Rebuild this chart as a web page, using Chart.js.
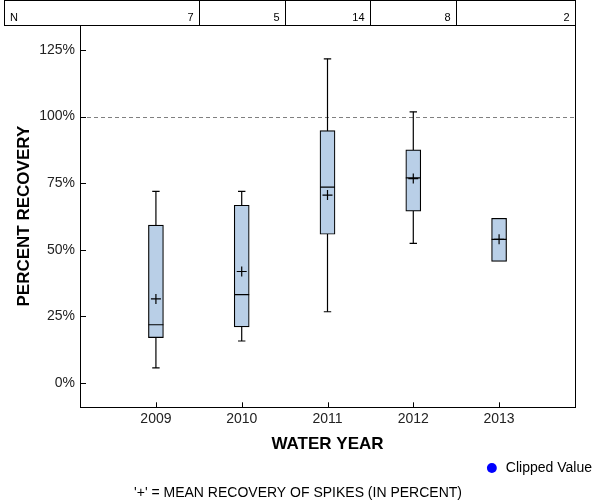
<!DOCTYPE html>
<html>
<head>
<meta charset="utf-8">
<script src="https://cdn.jsdelivr.net/npm/chart.js@4/dist/chart.umd.min.js"></script>
<style>
  html, body { margin: 0; padding: 0; background: #fff; }
  #wrap { width: 600px; height: 500px; position: relative; }
</style>
</head>
<body>
<div id="wrap"><canvas id="c" width="600" height="500"></canvas></div>
<script>
// ---- data ----
const years       = [2009, 2010, 2011, 2012, 2013];
const countN      = [7, 5, 14, 8, 2];
const whiskerLow  = [5.6, 15.7, 26.7, 52.4, null];
const q1          = [17.0, 21.0, 55.8, 64.5, 45.6];
const median      = [21.8, 33.1, 73.5, 77.0, 53.9];
const meanVal     = [31.5, 41.8, 70.5, 76.7, 53.9];
const q3          = [59.2, 66.7, 94.7, 87.5, 61.8];
const whiskerHigh = [71.9, 71.9, 121.7, 101.8, null];
const yTickValues = [0, 25, 50, 75, 100, 125];
const referenceLine = 100;

const FONT = "'Liberation Sans', Arial, sans-serif";

// build datasets from the arrays
const whiskerData = [];
const capData = [];
years.forEach((x, i) => {
  if (whiskerLow[i] !== null && whiskerHigh[i] !== null) {
    whiskerData.push({x, y: whiskerLow[i]}, {x, y: whiskerHigh[i]}, {x, y: null});
    capData.push({x, y: whiskerLow[i]}, {x, y: whiskerHigh[i]});
  }
});
const boxData = years.map((x, i) => ({x, y: [q1[i], q3[i]]}));
const medianData = years.map((x, i) => ({x, y: median[i]}));
const meanData = years.map((x, i) => ({x, y: meanVal[i]}));

const Y_MIN = -9.2, Y_MAX = 134.4;

const decorPlugin = {
  id: 'decor',
  beforeDatasetsDraw(chart) {
    const {ctx, chartArea: ca, scales: {x, y}} = chart;
    ctx.save();
    // reference dashed line
    const ry = Math.round(y.getPixelForValue(referenceLine)) + 0.5;
    ctx.strokeStyle = '#808080';
    ctx.lineWidth = 1;
    ctx.setLineDash([4, 3]);
    ctx.beginPath();
    ctx.moveTo(ca.left, ry);
    ctx.lineTo(ca.right, ry);
    ctx.stroke();
    ctx.setLineDash([]);
    // inside tick marks
    ctx.strokeStyle = '#000';
    ctx.beginPath();
    y.ticks.forEach(t => {
      const py = Math.round(y.getPixelForValue(t.value)) + 0.5;
      ctx.moveTo(ca.left, py);
      ctx.lineTo(ca.left + 6, py);
    });
    x.ticks.forEach(t => {
      const px = Math.round(x.getPixelForValue(t.value)) + 0.5;
      ctx.moveTo(px, ca.bottom);
      ctx.lineTo(px, ca.bottom - 5);
    });
    ctx.stroke();
    ctx.restore();
  },
  afterDraw(chart) {
    const {ctx, chartArea: ca, scales: {x}} = chart;
    ctx.save();
    ctx.strokeStyle = '#000';
    ctx.lineWidth = 1;
    const top = 0.5, bottom = Math.round(ca.top) + 0.5;
    const left = 4.5, right = Math.round(ca.right) + 0.5;
    ctx.strokeRect(left, top, right - left, bottom - top);
    // column dividers halfway between years
    const edges = [left];
    for (let i = 0; i < years.length - 1; i++) {
      edges.push(Math.round(x.getPixelForValue((years[i] + years[i + 1]) / 2)) + 0.5);
    }
    edges.push(right);
    ctx.beginPath();
    for (let i = 1; i < edges.length - 1; i++) {
      ctx.moveTo(edges[i], top);
      ctx.lineTo(edges[i], bottom);
    }
    ctx.stroke();
    ctx.fillStyle = '#000';
    ctx.font = '11px ' + FONT;
    ctx.textBaseline = 'alphabetic';
    ctx.textAlign = 'left';
    ctx.fillText('N', 10, 21);
    ctx.textAlign = 'right';
    countN.forEach((n, i) => {
      ctx.fillText(String(n), edges[i + 1] - 6, 21);
    });
    ctx.restore();
  }
};

new Chart(document.getElementById('c'), {
  type: 'bar',
  data: {
    datasets: [
      {
        type: 'line', label: 'whiskers', data: whiskerData,
        borderColor: '#000', borderWidth: 1.2, pointRadius: 0, spanGaps: false,
        fill: false, order: 4
      },
      {
        type: 'bar', label: 'box', data: boxData,
        backgroundColor: '#B9CFE7', borderColor: '#000', borderWidth: 1.2,
        borderSkipped: false, barThickness: 15, order: 3
      },
      {
        type: 'scatter', label: 'caps', data: capData,
        pointStyle: 'line', pointRadius: 3.7, borderColor: '#000', borderWidth: 1.2, order: 2
      },
      {
        type: 'scatter', label: 'median', data: medianData,
        pointStyle: 'line', pointRadius: 7.5, borderColor: '#000', borderWidth: 1.2, order: 1
      },
      {
        type: 'scatter', label: 'mean', data: meanData,
        pointStyle: 'cross', pointRadius: 5, borderColor: '#000', borderWidth: 1.2, order: 0
      },
      {
        type: 'scatter', label: 'Clipped Value', data: [],
        pointStyle: 'circle', backgroundColor: '#0000FF', borderColor: '#0000FF', borderWidth: 0, order: 5
      }
    ]
  },
  options: {
    responsive: false,
    animation: false,
    layout: { padding: { top: 25, left: 0, right: 4, bottom: 0 } },
    scales: {
      x: {
        type: 'linear', position: 'bottom', offset: false,
        min: 2008.115, max: 2013.885,
        grid: { display: false, drawTicks: false, offset: false },
        border: { display: true, color: '#000', width: 1 },
        afterBuildTicks: s => { s.ticks = years.map(v => ({value: v})); },
        ticks: {
          color: '#222', font: { family: FONT, size: 14 }, padding: 3.5,
          callback: v => String(v)
        },
        title: {
          display: true, text: 'WATER YEAR', color: '#000',
          font: { family: FONT, size: 17, weight: 'bold' },
          padding: { top: 3.5, bottom: 2 }
        }
      },
      y: {
        type: 'linear', position: 'left',
        min: Y_MIN, max: Y_MAX,
        grid: { display: false, drawTicks: false },
        border: { display: true, color: '#000', width: 1 },
        afterBuildTicks: s => { s.ticks = yTickValues.map(v => ({value: v})); },
        afterFit: s => { s.width = 80; },
        ticks: {
          color: '#222', font: { family: FONT, size: 14 }, padding: 5,
          callback: v => v + '%'
        },
        title: {
          display: true, text: 'PERCENT RECOVERY', color: '#000',
          font: { family: FONT, size: 17, weight: 'bold' },
          padding: { top: 14, bottom: 0 }
        }
      },
      y2: {
        type: 'linear', position: 'right', display: true,
        min: Y_MIN, max: Y_MAX,
        grid: { display: false, drawTicks: false },
        border: { display: true, color: '#000', width: 1 },
        ticks: { display: false },
        afterFit: s => { s.width = 21; }
      }
    },
    plugins: {
      legend: {
        display: true, position: 'bottom', align: 'end',
        labels: {
          filter: item => item.text === 'Clipped Value',
          usePointStyle: true, boxHeight: 7, padding: 4,
          color: '#000', font: { family: FONT, size: 14 }
        }
      },
      subtitle: {
        display: true, position: 'bottom',
        text: "'+' = MEAN RECOVERY OF SPIKES (IN PERCENT)",
        color: '#000', font: { family: FONT, size: 14, weight: 'normal', lineHeight: 1.0 },
        padding: { top: 1, bottom: 0 }
      },
      tooltip: { enabled: false }
    }
  },
  plugins: [decorPlugin]
});
</script>
</body>
</html>
